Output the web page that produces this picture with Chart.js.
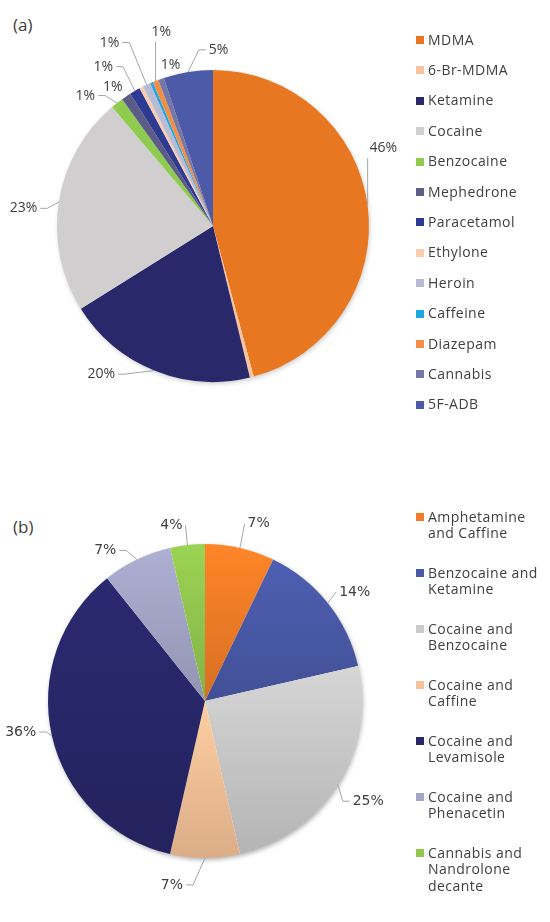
<!DOCTYPE html>
<html>
<head>
<meta charset="utf-8">
<script src="https://cdn.jsdelivr.net/npm/chart.js@4.4.0/dist/chart.umd.min.js"></script>
<style>
  html, body { margin:0; padding:0; background:#fff; }
  body { width:550px; height:922px; overflow:hidden; position:relative; font-family:'Open Sans', sans-serif; color:#404040; }
  canvas { position:absolute; left:0; }
  #ca { top:0; }
  #cb { top:470px; }
  .tag { position:absolute; left:13px; font-size:17px; line-height:20px; }
  .legend { position:absolute; left:416px; top:0; }
  .item { position:absolute; left:0; white-space:nowrap; font-size:14px; line-height:16.8px; letter-spacing:0.45px; }
  .box { position:absolute; left:0; top:4.4px; width:8px; height:8px; }
  .txt { position:absolute; left:12px; top:0; }
</style>
</head>
<body>
<div class="tag" style="top:15px">(a)</div>
<div class="tag" style="top:517px">(b)</div>
<canvas id="ca" width="550" height="460" style="width:550px;height:460px"></canvas>
<canvas id="cb" width="550" height="452" style="width:550px;height:452px"></canvas>
<div class="legend" id="legA"></div>
<div class="legend" id="legB"></div>
<script>
// ---------- data (a) ----------
const categoriesA = ['MDMA','6-Br-MDMA','Ketamine','Cocaine','Benzocaine','Mephedrone','Paracetamol','Ethylone','Heroin','Caffeine','Diazepam','Cannabis','5F-ADB'];
const valuesA = [45.8, 0.4, 19.9, 22.7, 1.3, 1.0, 1.1, 0.4, 0.8, 0.3, 0.6, 0.6, 5.1];
const colorsA = ['#E87722','#F8C4A0','#29286A','#D0CECE','#8FCB4E','#5B5D86','#2F3A93','#F9CDB0','#B8BAD6','#1FA8E0','#F28E45','#7378A8','#4D5AA8'];

// ---------- data (b) ----------
const categoriesB = [['Amphetamine','and Caffine'],['Benzocaine and','Ketamine'],['Cocaine and','Benzocaine'],['Cocaine and','Caffine'],['Cocaine and','Levamisole'],['Cocaine and','Phenacetin'],['Cannabis and','Nandrolone','decante']];
const valuesB = [2, 4, 7, 2, 10, 2, 1];
const colorsB = ['#F27D26','#4A5AA8','#CACACA','#F6C299','#28276A','#A4A6C8','#92C84F'];

// ---------- label placement (style: angle shift in degrees, distance in radii) ----------
const placeA = [{a:-17,r:1.20},null,{a:14.9,r:1.19},{a:-3.5,r:1.22},{a:-6.4,r:1.17},{a:-1.9,r:1.10,noLine:true},{a:-4.5,r:1.24},null,{a:-4.2,r:1.35},null,{a:6.7,r:1.29},{a:4.7,r:1.07,noLine:true},{a:11,r:1.13}];
const placeB = [{a:4,r:1.18},{a:2.5,r:1.18},{a:-0.6,r:1.22},{a:10.2,r:1.19},{a:3.3,r:1.19},{a:-7.8,r:1.15},{a:-4.4,r:1.14}];

function hexToRgb(h){ h=h.replace('#',''); return [parseInt(h.substr(0,2),16),parseInt(h.substr(2,2),16),parseInt(h.substr(4,2),16)]; }
function scale(h,f){ const c=hexToRgb(h).map(v=>Math.max(0,Math.min(255,Math.round(v*f)))); return 'rgb('+c.join(',')+')'; }

function gradientFor(values, colors){
  return function(ctx){
    const chart = ctx.chart, area = chart.chartArea, i = ctx.dataIndex;
    if (!area || i === undefined) return colors[i];
    const cx=(area.left+area.right)/2, cy=(area.top+area.bottom)/2, r=Math.min(area.width,area.height)/2;
    const total = values.reduce((s,v)=>s+v,0);
    let start=0; for(let k=0;k<i;k++) start+=values[k];
    const a0 = -Math.PI/2 + start/total*2*Math.PI, a1 = a0 + values[i]/total*2*Math.PI;
    const ys=[cy, cy+r*Math.sin(a0), cy+r*Math.sin(a1)];
    [-Math.PI/2, Math.PI/2, 3*Math.PI/2].forEach(k=>{ if (a0<=k && k<=a1) ys.push(cy+r*Math.sin(k)); });
    const y0=Math.min(...ys), y1=Math.max(...ys);
    const g = chart.ctx.createLinearGradient(0,y0,0,Math.max(y1,y0+1));
    g.addColorStop(0, scale(colors[i],1.06));
    g.addColorStop(1, scale(colors[i],0.89));
    return g;
  };
}

const shadowPlugin = {
  id:'pieShadow',
  beforeDatasetsDraw(chart, args, opts){
    const a=chart.chartArea, cx=(a.left+a.right)/2, cy=(a.top+a.bottom)/2, r=Math.min(a.width,a.height)/2;
    const ctx=chart.ctx; ctx.save();
    ctx.shadowColor=opts.color||'rgba(0,0,0,0.3)'; ctx.shadowBlur=5; ctx.shadowOffsetY=2; ctx.shadowOffsetX=1;
    ctx.beginPath(); ctx.arc(cx,cy,r-0.5,0,Math.PI*2); ctx.fillStyle='#fff'; ctx.fill();
    ctx.restore();
  }
};

const labelPlugin = {
  id:'sliceLabels',
  afterDatasetsDraw(chart, args, opts){
    const ctx=chart.ctx, meta=chart.getDatasetMeta(0), data=chart.data.datasets[0].data;
    const total=data.reduce((s,v)=>s+v,0);
    ctx.save();
    ctx.font=opts.font; ctx.fillStyle='#404040'; ctx.textAlign='center'; ctx.textBaseline='middle';
    meta.data.forEach((arc,i)=>{
      const p=opts.place[i]; if(!p) return;
      const {x,y,startAngle,endAngle,outerRadius}=arc.getProps(['x','y','startAngle','endAngle','outerRadius'],true);
      const mid=(startAngle+endAngle)/2, la=mid+p.a*Math.PI/180, R=outerRadius*p.r;
      const lx=x+Math.cos(la)*R, ly=y+Math.sin(la)*R;
      const ex=x+Math.cos(mid)*outerRadius, ey=y+Math.sin(mid)*outerRadius;
      const txt=Math.round(data[i]/total*100)+'%';
      const w=ctx.measureText(txt).width, h=14, gap=3;
      if(!p.noLine){
        const x1=lx-w/2-gap, x2=lx+w/2+gap, y1=ly-h/2-gap, y2=ly+h/2+gap;
        ctx.strokeStyle='#A6A6A6'; ctx.lineWidth=1; ctx.beginPath();
        if(ex<x1 || ex>x2){
          const ax = ex<x1 ? x1 : x2, dir = ex<x1 ? -1 : 1;
          ctx.moveTo(ax,ly);
          if(Math.abs(ex-ax)>10) ctx.lineTo(ax+dir*7,ly);
          ctx.lineTo(ex,ey);
        } else {
          const ay = ey<y1 ? y1 : y2;
          ctx.moveTo(ex,ay); ctx.lineTo(ex,ey);
        }
        ctx.stroke();
      }
      ctx.fillText(txt,lx,ly);
    });
    ctx.restore();
  }
};

function makePie(id, labels, values, bg, pad, place, font, shadow){
  return new Chart(document.getElementById(id), {
    type:'pie',
    data:{ labels:labels, datasets:[{ data:values, backgroundColor:bg, borderWidth:0, hoverOffset:0, offset:0 }] },
    options:{
      responsive:false, animation:false, events:[],
      layout:{ padding:pad },
      plugins:{ legend:{display:false}, tooltip:{enabled:false}, title:{display:false},
        sliceLabels:{ place:place, font:font }, pieShadow:{ color:shadow } }
    },
    plugins:[shadowPlugin, labelPlugin]
  });
}

makePie('ca', categoriesA, valuesA, colorsA, {left:57,right:181,top:70,bottom:78}, placeA, "14px 'Open Sans'", 'rgba(0,0,0,0.22)');
makePie('cb', categoriesB, valuesB, gradientFor(valuesB, colorsB), {left:48,right:188,top:74,bottom:64}, placeB, "14px 'DejaVu Sans'", 'rgba(0,0,0,0.35)');

function buildLegend(el, cats, colors, y0, step){
  cats.forEach((c,i)=>{
    const lines = Array.isArray(c) ? c : [c];
    const it=document.createElement('div'); it.className='item';
    it.style.top=(y0+i*step-8.4)+'px';
    const b=document.createElement('span'); b.className='box'; b.style.background=colors[i];
    const t=document.createElement('span'); t.className='txt'; t.innerHTML=lines.map(s=>s.replace(/&/g,'&amp;')).join('<br>');
    it.appendChild(b); it.appendChild(t); el.appendChild(it);
  });
}
buildLegend(document.getElementById('legA'), categoriesA, colorsA, 40, 30.4);
buildLegend(document.getElementById('legB'), categoriesB, colorsB, 517, 56);
</script>
</body>
</html>
